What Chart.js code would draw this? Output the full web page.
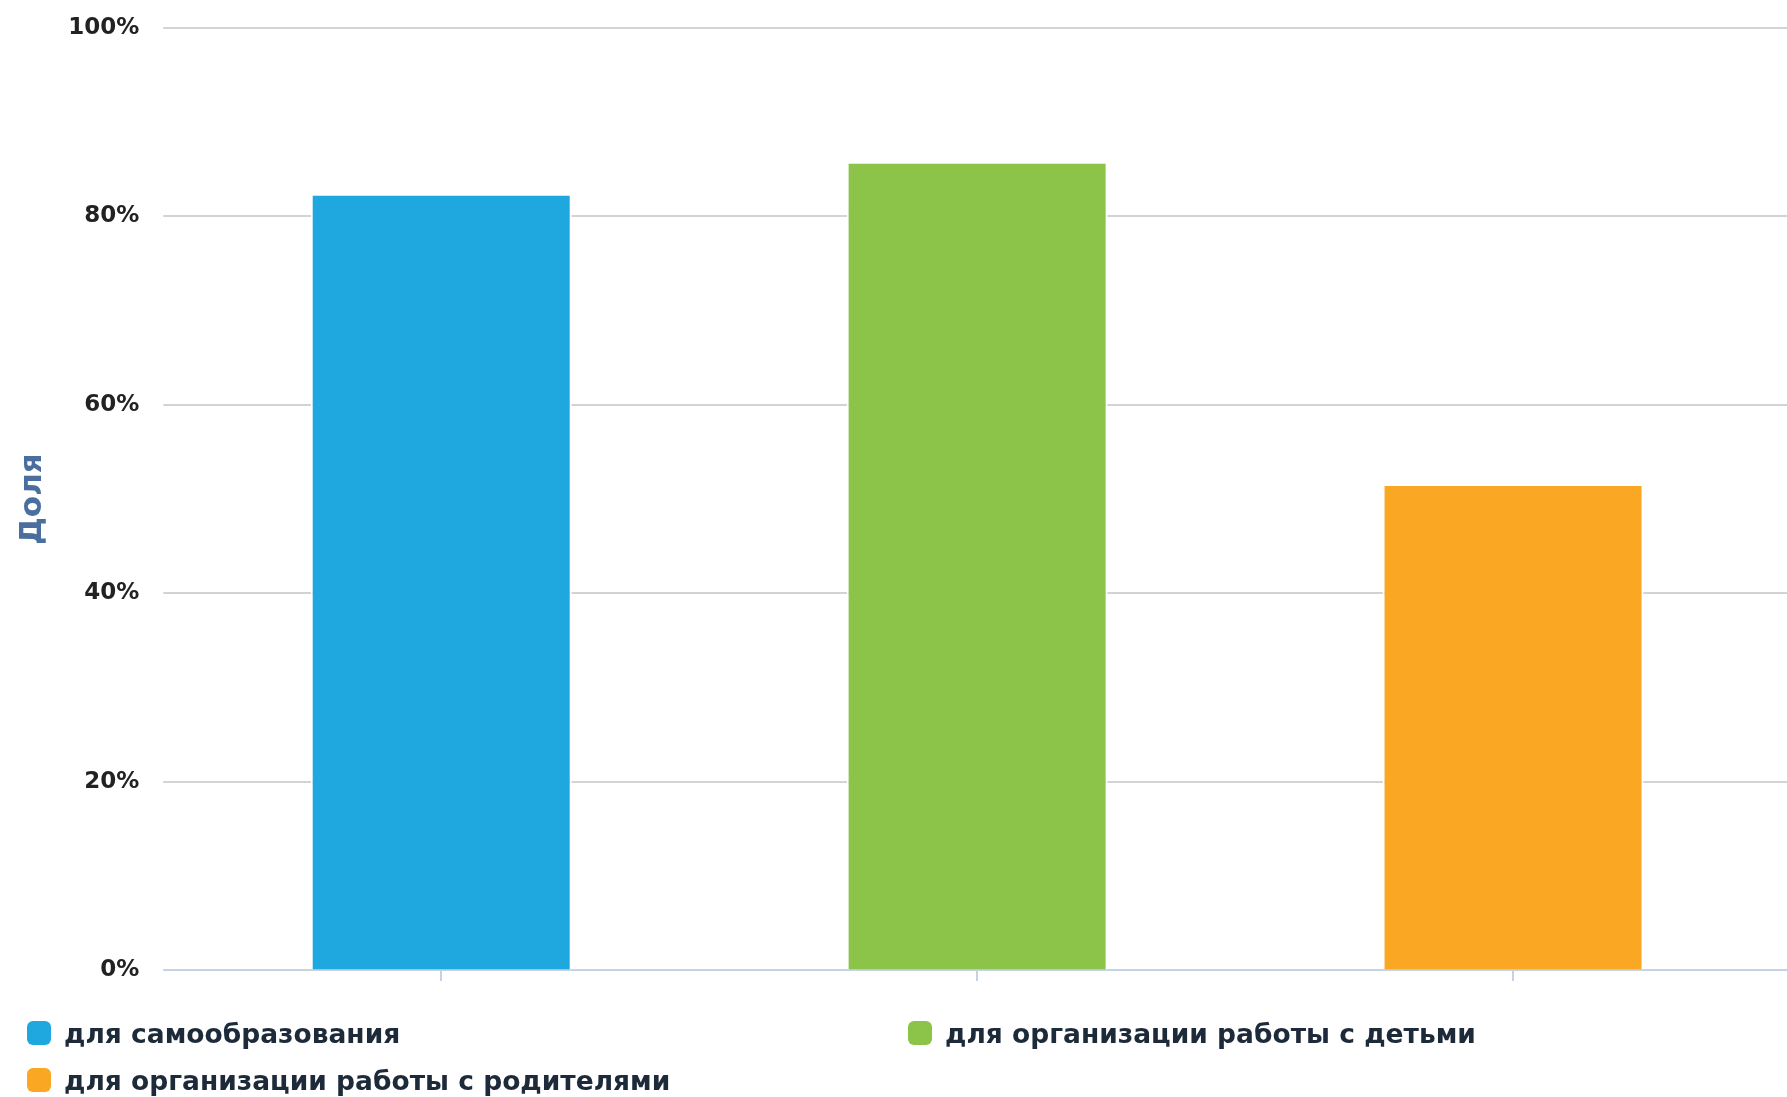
<!DOCTYPE html>
<html>
<head>
<meta charset="utf-8">
<script src="https://cdn.jsdelivr.net/npm/chart.js@4/dist/chart.umd.min.js"></script>
<style>
  html, body { margin: 0; padding: 0; background: #fff; }
  #wrap { position: relative; width: 1787px; height: 1097px; }
  #chartBox { position: absolute; left: 0; top: 0; width: 1787px; height: 1097px; }
  #legend { position: absolute; left: 0; top: 0; width: 1787px; height: 1097px; pointer-events: none;
            font-family: "DejaVu Sans", sans-serif; font-weight: bold; font-size: 26.5px; color: #1d2a3a; }
  .item { position: absolute; display: flex; align-items: center; white-space: nowrap; }
  .mark { width: 24px; height: 24px; border-radius: 6px; margin-right: 13px; }
</style>
</head>
<body>
<div id="wrap">
  <div id="chartBox"><canvas id="c"></canvas></div>
  <div id="legend"></div>
</div>
<script>
const categories = ["для самообразования", "для организации работы с детьми", "для организации работы с родителями"];
const values = [82.4, 85.8, 51.6];
const colors = ["#1fa8df", "#8bc449", "#faa823"];
const yTicks = [0, 20, 40, 60, 80, 100];
const yTitle = "Доля";

// draws the horizontal grid lines from the y axis edge across the full width
const gridPlugin = {
  id: 'wideGrid',
  beforeDatasetsDraw(chart) {
    const y = chart.scales.y;
    const c = chart.ctx;
    const x0 = chart.chartArea.left - 10;
    const x1 = chart.width;
    c.save();
    c.strokeStyle = '#d3d3d3';
    c.lineWidth = 2;
    y.ticks.forEach(t => {
      if (t.value === 0) return;
      const py = Math.round(y.getPixelForValue(t.value));
      c.beginPath(); c.moveTo(x0, py); c.lineTo(x1, py); c.stroke();
    });
    const pb = Math.round(y.getPixelForValue(0));
    c.strokeStyle = '#c5d3e3';
    c.beginPath(); c.moveTo(x0, pb); c.lineTo(x1, pb); c.stroke();
    c.restore();
  }
};

const ctx = document.getElementById('c');
new Chart(ctx, {
  type: 'bar',
  data: {
    labels: categories,
    datasets: [{
      data: values,
      backgroundColor: colors,
      borderColor: '#ffffff',
      borderWidth: 2,
      borderSkipped: 'bottom',
      barPercentage: 0.487,
      categoryPercentage: 1.0
    }]
  },
  plugins: [gridPlugin],
  options: {
    responsive: true,
    maintainAspectRatio: false,
    animation: false,
    layout: { padding: { top: 0, right: 6, bottom: 116, left: 14 } },
    plugins: { legend: { display: false }, tooltip: { enabled: false } },
    scales: {
      x: {
        grid: { drawOnChartArea: false, offset: false, color: '#c5d3e3', tickLength: 11, lineWidth: 2 },
        border: { display: false },
        ticks: { display: false }
      },
      y: {
        min: 0, max: 100,
        afterBuildTicks: (axis) => { axis.ticks = yTicks.map(v => ({ value: v })); },
        afterFit: (axis) => { axis.paddingTop = 28; },
        ticks: {
          callback: v => v + '%',
          color: '#222222',
          font: { family: 'DejaVu Sans', weight: 'bold', size: 23 },
          padding: 34
        },
        grid: { drawOnChartArea: false, drawTicks: false },
        border: { display: false },
        title: {
          display: true, text: yTitle, color: '#4a6f9e',
          font: { family: 'DejaVu Sans', weight: 'bold', size: 31 },
          padding: { top: 0, bottom: -17 }
        }
      }
    }
  }
});

const legend = document.getElementById('legend');
const pos = [[27, 1033], [908, 1033], [27, 1080]];
categories.forEach((name, i) => {
  const d = document.createElement('div');
  d.className = 'item';
  d.style.left = pos[i][0] + 'px';
  d.style.top = (pos[i][1] - 18) + 'px';
  d.style.height = '36px';
  const m = document.createElement('span');
  m.className = 'mark';
  m.style.background = colors[i];
  const t = document.createElement('span');
  t.textContent = name;
  d.appendChild(m); d.appendChild(t);
  legend.appendChild(d);
});
</script>
</body>
</html>
